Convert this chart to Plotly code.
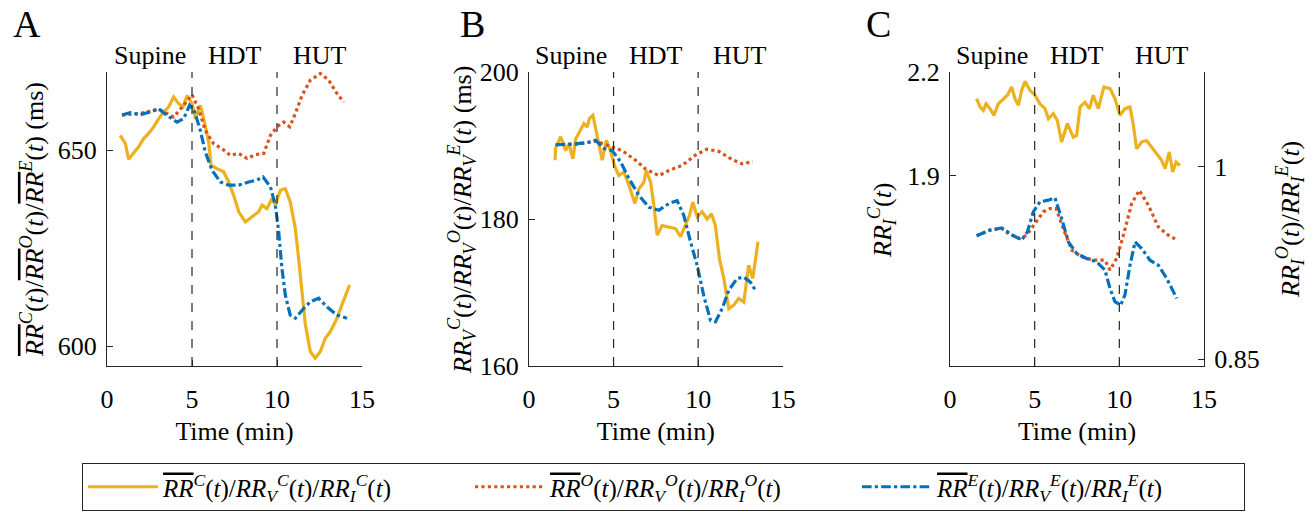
import plotly.graph_objects as go

# ---------------- data ----------------
# Panel A: mean RR (ms)
tA_C = [0.78, 1.08, 1.27, 1.57, 1.86, 2.16, 2.45, 2.75, 3.04, 3.33, 3.63, 3.92, 4.22, 4.47, 4.71, 5.0, 5.2, 5.49, 5.69, 5.98, 6.12, 6.47, 6.86, 7.16, 7.45, 7.75, 8.14, 8.53, 8.92, 9.12, 9.41, 9.71, 9.9, 10.2, 10.49, 10.78, 11.08, 11.27, 11.47, 11.67, 11.96, 12.25, 12.55, 12.84, 13.14, 13.53, 13.82, 14.12, 14.27]
yA_C = [653.8, 651.7, 647.7, 649.2, 650.9, 653.0, 654.3, 656.0, 658.1, 659.8, 661.1, 663.6, 661.9, 661.1, 664.0, 661.9, 658.1, 661.5, 658.1, 652.1, 646.2, 645.3, 644.5, 641.9, 638.5, 634.3, 631.7, 633.0, 634.3, 636.0, 635.1, 637.7, 636.0, 639.8, 640.2, 636.8, 630.0, 622.4, 613.9, 605.4, 598.6, 596.9, 598.6, 602.0, 603.7, 607.1, 610.5, 613.9, 615.6]
tA_O = [0.88, 1.96, 3.04, 3.92, 4.51, 5.0, 5.39, 5.78, 6.27, 6.76, 7.25, 7.75, 8.24, 8.73, 9.22, 9.61, 10.0, 10.39, 10.75, 11.08, 11.47, 11.96, 12.55, 13.04, 13.53, 13.92]
yA_O = [659.0, 659.4, 660.5, 658.5, 661.5, 664.2, 660.6, 655.1, 651.7, 650.4, 648.7, 649.2, 647.9, 648.9, 649.2, 653.8, 656.0, 657.2, 656.0, 659.4, 664.0, 667.9, 669.6, 667.9, 664.5, 662.3]
tA_E = [0.88, 1.37, 1.96, 2.55, 3.04, 3.53, 4.12, 4.51, 4.86, 5.14, 5.49, 5.78, 6.18, 6.67, 7.16, 7.75, 8.33, 8.82, 9.18, 9.61, 9.9, 10.1, 10.29, 10.49, 10.78, 11.08, 11.57, 11.96, 12.45, 12.94, 13.53, 14.12]
yA_E = [659.0, 659.6, 659.1, 659.8, 660.6, 658.9, 657.2, 658.1, 661.5, 660.0, 655.1, 649.6, 644.9, 641.9, 641.1, 641.1, 641.9, 642.4, 643.2, 640.7, 636.0, 629.2, 619.8, 613.0, 607.9, 607.1, 609.6, 611.3, 612.2, 610.0, 607.9, 607.1]

# Panel B: RR_V (ms)
tB_C = [1.54, 1.57, 1.87, 2.17, 2.36, 2.6, 2.76, 3.05, 3.25, 3.44, 3.58, 3.78, 3.94, 4.13, 4.33, 4.57, 4.82, 5.08, 5.31, 5.61, 5.91, 6.26, 6.5, 6.79, 6.93, 7.19, 7.38, 7.58, 7.87, 8.27, 8.66, 8.96, 9.25, 9.49, 9.69, 9.94, 10.24, 10.53, 10.79, 11.02, 11.26, 11.52, 11.81, 12.11, 12.4, 12.7, 12.99, 13.23, 13.54]
yB_C = [188.0, 189.6, 191.2, 189.3, 190.2, 188.2, 190.9, 192.1, 193.0, 192.5, 193.7, 194.1, 192.5, 190.2, 188.0, 190.7, 189.3, 187.1, 185.9, 186.4, 184.6, 182.1, 184.1, 185.0, 186.6, 185.0, 181.9, 177.8, 179.1, 178.9, 178.7, 177.6, 179.1, 180.5, 182.3, 180.3, 181.0, 180.0, 180.7, 179.1, 174.6, 171.9, 167.8, 168.3, 169.2, 168.7, 173.7, 171.9, 176.9]
tB_O = [1.57, 2.95, 3.94, 4.82, 5.51, 6.3, 6.89, 7.68, 8.27, 9.06, 9.84, 10.53, 11.22, 12.01, 12.6, 13.23]
yB_O = [190.1, 190.2, 190.6, 189.9, 189.3, 188.0, 186.8, 185.9, 186.6, 187.3, 188.7, 189.5, 189.2, 188.1, 187.5, 187.8]
tB_E = [1.57, 2.56, 3.44, 3.94, 4.43, 4.92, 5.41, 5.91, 6.5, 7.09, 7.68, 8.27, 8.76, 9.15, 9.55, 9.94, 10.33, 10.73, 11.02, 11.42, 11.81, 12.3, 12.7, 13.09, 13.39]
yB_E = [190.1, 190.2, 190.4, 190.7, 189.6, 189.3, 187.8, 185.5, 183.2, 181.6, 181.2, 182.1, 182.5, 180.5, 176.9, 173.7, 169.6, 166.2, 166.0, 167.8, 170.3, 171.9, 172.1, 171.4, 170.3]

# Panel C: RR_I (left: C, right: O and E)
tC_C = [1.57, 1.77, 1.97, 2.13, 2.36, 2.6, 2.85, 3.15, 3.39, 3.64, 3.84, 4.04, 4.23, 4.43, 4.72, 5.02, 5.31, 5.61, 5.81, 6.1, 6.34, 6.59, 6.93, 7.28, 7.48, 7.68, 7.97, 8.23, 8.46, 8.76, 9.09, 9.45, 9.74, 10.04, 10.33, 10.63, 10.83, 11.02, 11.32, 11.61, 11.91, 12.2, 12.5, 12.7, 12.95, 13.15, 13.35, 13.58]
yC_C = [2.123, 2.099, 2.089, 2.108, 2.094, 2.075, 2.108, 2.123, 2.133, 2.157, 2.123, 2.104, 2.147, 2.173, 2.147, 2.133, 2.108, 2.094, 2.065, 2.080, 2.060, 1.998, 2.051, 2.012, 2.017, 2.099, 2.113, 2.094, 2.133, 2.094, 2.157, 2.152, 2.123, 2.075, 2.094, 2.099, 2.046, 1.978, 1.998, 2.002, 1.983, 1.964, 1.945, 1.921, 1.969, 1.911, 1.940, 1.930]
tC_O = [1.57, 2.36, 3.05, 3.54, 4.13, 4.53, 5.02, 5.51, 5.91, 6.26, 6.69, 7.19, 7.78, 8.46, 9.15, 9.45, 9.84, 10.24, 10.73, 11.18, 11.71, 12.3, 12.89, 13.35]
yC_O = [0.9463, 0.9507, 0.9520, 0.9473, 0.9442, 0.9468, 0.9559, 0.9650, 0.9676, 0.9676, 0.9520, 0.9351, 0.9299, 0.9273, 0.9273, 0.9196, 0.9286, 0.9468, 0.9715, 0.9818, 0.9702, 0.9533, 0.9468, 0.9434]
tC_E = [1.57, 2.36, 3.05, 3.64, 4.23, 4.57, 4.92, 5.31, 5.81, 6.2, 6.59, 6.99, 7.48, 8.07, 8.66, 9.15, 9.45, 9.74, 10.08, 10.33, 10.63, 10.93, 11.32, 11.81, 12.3, 12.8, 13.39]
yC_E = [0.9463, 0.9507, 0.9525, 0.9473, 0.9429, 0.9494, 0.9650, 0.9728, 0.9741, 0.9759, 0.9598, 0.9416, 0.9325, 0.9286, 0.9260, 0.9196, 0.9053, 0.8949, 0.8923, 0.9001, 0.9234, 0.9416, 0.9364, 0.9273, 0.9234, 0.9130, 0.8975]

phase_labels = ["Supine", "HDT", "HUT"]
phase_centers = [2.5, 7.5, 12.5]
phase_bounds = [5, 10]
x_ticks = [0, 5, 10, 15]

# ---------------- style ----------------
YEL, ORA, BLU = "#EDB120", "#D95319", "#0072BD"
FONT = "Liberation Serif"
AX = "#262626"
W, H = 1314, 512
top_px, bot_px = 72, 366
ydom = [1 - bot_px / H, 1 - top_px / H]
xdoms = [[107 / W, 362 / W], [529 / W, 782.7 / W], [950 / W, 1204 / W]]

OV = '<span style="text-decoration:overline">RR</span>'
lab_C = f"<i>{OV}</i><sup><i>C</i></sup>(<i>t</i>)/<i>RR</i><sub><i>V</i></sub><sup><i>C</i></sup>(<i>t</i>)/<i>RR</i><sub><i>I</i></sub><sup><i>C</i></sup>(<i>t</i>)"
lab_O = f"<i>{OV}</i><sup><i>O</i></sup>(<i>t</i>)/<i>RR</i><sub><i>V</i></sub><sup><i>O</i></sup>(<i>t</i>)/<i>RR</i><sub><i>I</i></sub><sup><i>O</i></sup>(<i>t</i>)"
lab_E = f"<i>{OV}</i><sup><i>E</i></sup>(<i>t</i>)/<i>RR</i><sub><i>V</i></sub><sup><i>E</i></sup>(<i>t</i>)/<i>RR</i><sub><i>I</i></sub><sup><i>E</i></sup>(<i>t</i>)"

fig = go.Figure()
LW = 3.2

def add(x, y, color, dash, name, xa, ya, show):
    fig.add_trace(go.Scatter(x=x, y=y, mode="lines", name=name, showlegend=show,
                             line=dict(color=color, width=LW, dash=dash),
                             xaxis=xa, yaxis=ya))

add(tA_C, yA_C, YEL, "solid", lab_C, "x", "y", True)
add(tA_O, yA_O, ORA, "dot", lab_O, "x", "y", True)
add(tA_E, yA_E, BLU, "dashdot", lab_E, "x", "y", True)
add(tB_C, yB_C, YEL, "solid", lab_C, "x2", "y2", False)
add(tB_O, yB_O, ORA, "dot", lab_O, "x2", "y2", False)
add(tB_E, yB_E, BLU, "dashdot", lab_E, "x2", "y2", False)
add(tC_C, yC_C, YEL, "solid", lab_C, "x3", "y3", False)
add(tC_O, yC_O, ORA, "dot", lab_O, "x3", "y4", False)
add(tC_E, yC_E, BLU, "dashdot", lab_E, "x3", "y4", False)

tickfont = dict(family=FONT, size=26, color="black")
def xaxis(dom, anchor):
    return dict(domain=dom, anchor=anchor, range=[0, 15], tickvals=x_ticks,
                ticks="inside", ticklen=6, tickcolor=AX, showline=True, linecolor=AX,
                linewidth=1, showgrid=False, zeroline=False, tickfont=tickfont,
                ticklabelstandoff=10, automargin=False,
                title=dict(text="Time (min)", font=dict(family=FONT, size=26, color="black"), standoff=8))
def yaxis(anchor, rng, vals, side="left", **kw):
    d = dict(domain=ydom, anchor=anchor, range=rng, tickvals=vals, side=side,
             ticks="inside", ticklen=6, tickcolor=AX, showline=True, linecolor=AX,
             linewidth=1, showgrid=False, zeroline=False, tickfont=tickfont,
             ticklabelstandoff=4, automargin=False)
    d.update(kw)
    return d

fig.update_layout(
    width=W, height=H, margin=dict(l=0, r=0, t=0, b=0, autoexpand=False),
    paper_bgcolor="white", plot_bgcolor="white",
    font=dict(family=FONT, color="black"),
    xaxis=xaxis(xdoms[0], "y"),
    xaxis2=xaxis(xdoms[1], "y2"),
    xaxis3=xaxis(xdoms[2], "y3"),
    yaxis=yaxis("x", [594.9, 670], [600, 650]),
    yaxis2=yaxis("x2", [160, 200], [160, 180, 200]),
    yaxis3=yaxis("x3", [1.351, 2.2], [1.9, 2.2], tickformat=".1f"),
    yaxis4=yaxis("x3", [0.8448, 1.074], [0.85, 1], side="right", overlaying="y3"),
    legend=dict(orientation="h", x=82 / W, xanchor="left", y=1 - 463 / H, yanchor="top",
                bordercolor=AX, borderwidth=1, bgcolor="white",
                font=dict(family=FONT, size=25, color="black"),
                entrywidth=302, itemwidth=70, tracegroupgap=0),
)

# phase boundaries and labels
for xa, ya in [("x", "y"), ("x2", "y2"), ("x3", "y3")]:
    for b in phase_bounds:
        fig.add_shape(type="line", xref=xa, yref=f"{ya} domain", x0=b, x1=b, y0=0, y1=1,
                      line=dict(color=AX, width=1.2, dash="dash"))
    for lab, c in zip(phase_labels, phase_centers):
        fig.add_annotation(text=lab, xref=xa, yref="paper", x=c, y=1 - 55 / H,
                           xanchor="center", yanchor="middle", showarrow=False,
                           font=dict(family=FONT, size=26, color="black"))

# panel letters
for lab, px in [("A", 27), ("B", 472), ("C", 878)]:
    fig.add_annotation(text=lab, xref="paper", yref="paper", x=px / W, y=1 - 24 / H,
                       xanchor="center", yanchor="middle", showarrow=False,
                       font=dict(family=FONT, size=38, color="black"))

# y-axis titles
ytitles = [
    (f"<i>{OV}</i><sup><i>C</i></sup>(<i>t</i>)/<i>{OV}</i><sup><i>O</i></sup>(<i>t</i>)/<i>{OV}</i><sup><i>E</i></sup>(<i>t</i>) (ms)", 32, 220),
    ("<i>RR</i><sub><i>V</i></sub><sup><i>C</i></sup>(<i>t</i>)/<i>RR</i><sub><i>V</i></sub><sup><i>O</i></sup>(<i>t</i>)/<i>RR</i><sub><i>V</i></sub><sup><i>E</i></sup>(<i>t</i>) (ms)", 462, 220),
    ("<i>RR</i><sub><i>I</i></sub><sup><i>C</i></sup>(<i>t</i>)", 882, 220),
    ("<i>RR</i><sub><i>I</i></sub><sup><i>O</i></sup>(<i>t</i>)/<i>RR</i><sub><i>I</i></sub><sup><i>E</i></sup>(<i>t</i>)", 1290, 220),
]
for txt, px, py in ytitles:
    fig.add_annotation(text=txt, xref="paper", yref="paper", x=px / W, y=1 - py / H,
                       xanchor="center", yanchor="middle", showarrow=False, textangle=-90,
                       font=dict(family=FONT, size=26, color="black"))

fig.write_html("out.html", config={"displayModeBar": False},
               post_script="document.body.style.margin='0px';document.body.style.overflow='hidden';")
